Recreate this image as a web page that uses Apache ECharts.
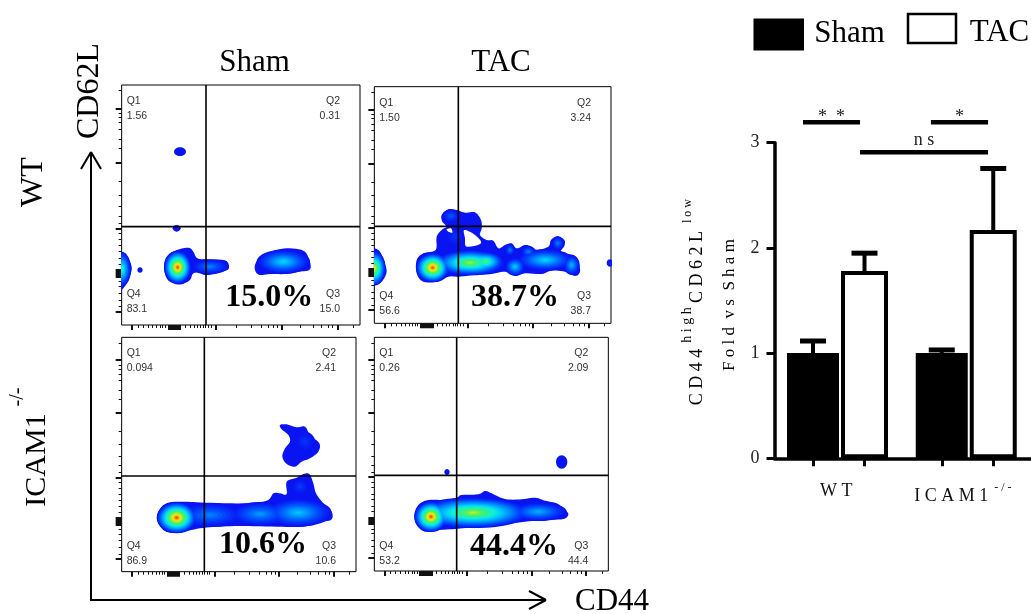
<!DOCTYPE html>
<html><head><meta charset="utf-8">
<style>html,body{margin:0;padding:0;background:#fff}#c{width:1031px;height:614px}</style>
<script src="https://cdn.jsdelivr.net/npm/echarts@6/dist/echarts.min.js"></script>
</head><body><div id="c"></div>
<script>
// ---------- bar chart data ----------
const GROUPS = ['WT', 'ICAM1-/-'];
const SHAM_X = [1, 3.5];
const TAC_X = [2, 4.5];
const SHAM_VALUES = [1, 1];
const TAC_VALUES = [1.78, 2.17];
const SHAM_ERR_TOP = [1.115, 1.03];
const TAC_ERR_TOP = [1.95, 2.755];
const SIG_LINES = [[0.806, 1.913, 3.194, '*  *', 3.245], [3.29, 4.4, 3.194, '*', 3.245], [1.913, 4.4, 2.909, 'n s', 3.02]];

// ---------- flow plots (channel units) ----------
const PANEL_NAMES = ['Sham WT', 'TAC WT', 'Sham ICAM1', 'TAC ICAM1'];
const PCT_LABELS = ['15.0%', '38.7%', '10.6%', '44.4%'];
const Q_VALUES = [['1.56', '0.31', '15.0', '83.1'], ['1.50', '3.24', '38.7', '56.6'], ['0.094', '2.41', '10.6', '86.9'], ['0.26', '2.09', '44.4', '53.2']];
const X_RANGE = [[35, 750], [28, 738], [35, 738], [28, 730]];
const Y_RANGE = [[15, 735], [20, 730], [22, 725], [22, 723]];
const GATE_X = [288, 280, 283, 275];
const GATE_Y = [440, 439, 438, 436];
const PCT_POS = [[478, 652], [450, 652], [459, 645], [447, 650]];
const TICK_X_MAJOR = [66, 318, 515, 682, 175, 180, 185, 190, 195, 200, 205, 210];
const TICK_X_MINOR = [85, 100, 115, 128, 140, 150, 158, 165, 225, 240, 252, 262, 272, 280, 287, 295, 303, 380, 425, 455, 475, 490, 503, 570, 610, 635, 655, 668, 730];
const TICK_Y_MAJOR = [85, 248, 445, 570, 575, 580, 585, 590, 695];
const TICK_Y_MINOR = [32, 100, 112, 128, 148, 178, 205, 305, 345, 380, 408, 430, 460, 478, 497, 515, 535, 552, 605, 620, 640, 660, 680];

const OUTLINES = [
  [
    [[30,515],[35,515],[50,525],[62,550],[65,570],[55,600],[42,622],[30,622]],
    [[162,560],[170,530],[195,512],[235,503],[250,515],[262,535],[290,538],[340,540],[355,550],[355,568],[335,575],[310,583],[285,585],[262,578],[248,582],[240,600],[215,613],[190,610],[170,595]],
    [[435,555],[450,530],[480,515],[530,505],[580,512],[598,540],[600,568],[570,575],[530,582],[480,582],[450,585],[437,575]]
  ],
  [
    [[20,505],[30,505],[45,515],[55,540],[65,575],[50,605],[30,615],[20,615]],
    [[155,540],[175,520],[212,510],[215,470],[232,448],[245,440],[232,425],[230,405],[250,388],[275,390],[300,398],[330,397],[348,420],[350,445],[345,465],[365,480],[385,482],[400,505],[420,495],[440,490],[455,505],[480,495],[500,500],[515,510],[550,500],[558,480],[578,468],[598,480],[598,498],[585,520],[625,525],[640,545],[645,575],[630,588],[600,575],[560,572],[530,582],[480,580],[450,588],[420,575],[380,582],[330,585],[280,590],[250,590],[220,605],[175,605],[155,580]]
  ],
  [
    [[510,285],[530,283],[560,292],[585,290],[600,315],[628,340],[625,365],[600,385],[575,395],[555,410],[530,402],[517,380],[525,355],[540,335],[535,315],[515,298]],
    [[142,560],[155,530],[180,517],[225,515],[285,518],[400,520],[470,512],[490,490],[510,490],[530,492],[530,455],[560,443],[580,432],[598,432],[610,460],[618,490],[640,520],[665,545],[665,568],[640,575],[580,590],[500,590],[400,588],[330,590],[270,595],[220,605],[180,608],[155,595]]
  ],
  [
    [[148,555],[160,525],[190,510],[240,510],[275,503],[290,495],[340,493],[360,483],[380,490],[420,507],[470,508],[510,503],[540,512],[575,520],[595,535],[610,552],[595,567],[540,570],[480,575],[400,585],[320,592],[270,597],[220,600],[180,605],[155,585]]
  ]
];
const HOLES = [
  [],
  [[[298,450],[330,465],[348,490],[305,500],[300,475]], [[245,448],[258,445],[262,458],[250,455]]],
  [],
  []
];
// cx, cy, rx, ry, top density level (0 blue .. 10 red)
const PEAKS = [
  [[35,568,28,52,5],[90,570,8,8,0],[203,562,41,50,10],[300,560,55,22,2],[520,545,80,36,3.6],[210,215,18,13,0],[200,445,12,10,0]],
  [[28,565,34,52,8],[203,563,50,44,10],[258,408,26,20,1.4],[270,470,30,28,0.6],[315,548,105,38,7],[360,545,55,30,6],[450,560,30,27,3.4],[540,540,85,32,3.6],[490,515,22,17,2],[435,510,15,17,2],[578,490,18,20,2],[620,555,24,30,3],[735,549,10,11,0.3]],
  [[585,335,30,30,0.6],[200,563,60,47,10],[300,555,100,36,2],[450,552,90,36,2.4],[565,548,100,42,3.2],[570,470,25,25,0.8]],
  [[198,560,50,46,10],[325,548,170,46,7.2],[520,545,85,28,2.8],[590,396,17,20,0],[246,426,8,9,0]]
];

const RAMP = ['#0a14f2','#0050ff','#0090ff','#00c8ff','#10f0d8','#30f090','#60f050','#c8f020','#ffd800','#ff7000','#ff1a00'];
function hex(c){return [1,3,5].map(i=>parseInt(c.substr(i,2),16));}
function rampColor(l){
  const i=Math.min(Math.floor(l),RAMP.length-2),f=l-i,a=hex(RAMP[i]),b=hex(RAMP[i+1]);
  return 'rgb('+a.map((v,k)=>Math.round(v+(b[k]-v)*f)).join(',')+')';
}
// closed Catmull-Rom through the outline vertices, only to round the drawn contour
function rounded(pts){
  const out=[],n=pts.length;
  for(let i=0;i<n;i++){
    const p0=pts[(i+n-1)%n],p1=pts[i],p2=pts[(i+1)%n],p3=pts[(i+2)%n];
    for(let s=0;s<6;s++){
      const t=s/6,t2=t*t,t3=t2*t;
      out.push([0,1].map(k=>0.5*(2*p1[k]+(p2[k]-p0[k])*t+(2*p0[k]-5*p1[k]+4*p2[k]-p3[k])*t2+(3*p1[k]-p0[k]-3*p2[k]+p3[k])*t3)));
    }
  }
  return out;
}

const CROPS = [[110,80],[365,80],[110,330],[365,330]];
const TEXT = '"Liberation Serif","Times New Roman",serif';
const SANS = '10.5px "Liberation Sans",Arial,sans-serif';
const grids=[],xAxes=[],yAxes=[],series=[];

function scaleTicks(t,r,o,s){return t.map(v=>r[0]+(v-o)*(r[1]-r[0])/s);}

PANEL_NAMES.forEach((name,p)=>{
  const xr=X_RANGE[p],yr=Y_RANGE[p],c=CROPS[p];
  grids.push({left:c[0]+xr[0]/3,top:c[1]+yr[0]/3,width:(xr[1]-xr[0])/3,height:(yr[1]-yr[0])/3,show:true,borderColor:'#000',borderWidth:1,backgroundColor:'#fff'});
  const xi=xAxes.length,yi=yAxes.length;
  const mkX=(vals,len,w)=>({type:'value',gridIndex:p,min:xr[0],max:xr[1],position:'bottom',axisLine:{show:false},splitLine:{show:false},axisLabel:{show:false},
    axisTick:{show:true,length:len,customValues:scaleTicks(vals,xr,35,715),lineStyle:{color:'#111',width:w}}});
  const mkY=(vals,len,w)=>({type:'value',gridIndex:p,min:yr[0],max:yr[1],inverse:true,position:'left',axisLine:{show:false},splitLine:{show:false},axisLabel:{show:false},
    axisTick:{show:true,length:len,customValues:scaleTicks(vals,yr,15,720),lineStyle:{color:'#111',width:w}}});
  xAxes.push(mkX(TICK_X_MAJOR,5,2),mkX(TICK_X_MINOR,3,1));
  yAxes.push(mkY(TICK_Y_MAJOR,6,2),mkY(TICK_Y_MINOR,3,1));
  const items=[];
  OUTLINES[p].forEach(o=>items.push({k:'poly',pts:rounded(o),fill:RAMP[0]}));
  // contour levels painted low to high, so overlapping peaks keep the higher density
  const ells=[];
  PEAKS[p].forEach(pk=>{
    const N=pk[4]<=0.01?1:Math.max(5,Math.round(pk[4]*4));
    for(let i=0;i<N;i++){
      const f=i/N,lv=pk[4]*Math.pow(f,1.2);
      ells.push({k:'ell',lv:lv,cx:pk[0],cy:pk[1],rx:pk[2]*(1-f),ry:pk[3]*(1-f),fill:rampColor(lv)});
    }
  });
  ells.sort((a,b)=>a.lv-b.lv).forEach(e=>items.push(e));
  HOLES[p].forEach(o=>items.push({k:'poly',pts:rounded(o),fill:'#fff'}));
  items.push({k:'line',a:[GATE_X[p],yr[0]],b:[GATE_X[p],yr[1]]});
  items.push({k:'line',a:[xr[0],GATE_Y[p]],b:[xr[1],GATE_Y[p]]});
  const qs=[['Q1',xr[0]+15,yr[0]+48,'left'],['Q2',xr[1]-60,yr[0]+48,'right'],['Q3',xr[1]-60,yr[0]+627,'right'],['Q4',xr[0]+15,yr[0]+627,'left']];
  qs.forEach((q,i)=>{
    items.push({k:'txt',t:q[0],x:q[1],y:q[2],align:q[3],font:SANS,fill:'#333'});
    items.push({k:'txt',t:Q_VALUES[p][i],x:q[1],y:q[2]+45,align:q[3],font:SANS,fill:'#333'});
  });
  items.push({k:'txt',t:PCT_LABELS[p],x:PCT_POS[p][0],y:PCT_POS[p][1],align:'center',font:'bold 32px '+TEXT,fill:'#000'});
  series.push({type:'custom',name:name,xAxisIndex:xi,yAxisIndex:yi,clip:true,silent:true,z:3,
    data:items.map((_,i)=>[i]),
    renderItem:(params,api)=>{
      const it=items[params.dataIndex];
      if(it.k==='poly'){
        return {type:'polygon',shape:{points:it.pts.map(q=>api.coord(q))},style:{fill:it.fill}};
      }
      if(it.k==='ell'){
        const q=api.coord([it.cx,it.cy]);
        return {type:'ellipse',shape:{cx:q[0],cy:q[1],rx:it.rx/3,ry:it.ry/3},style:{fill:it.fill}};
      }
      if(it.k==='line'){
        const a=api.coord(it.a),b=api.coord(it.b);
        return {type:'line',shape:{x1:a[0],y1:a[1],x2:b[0],y2:b[1]},style:{stroke:'#000',lineWidth:1.6}};
      }
      const q=api.coord([it.x,it.y]);
      return {type:'text',x:q[0],y:q[1],style:{text:it.t,font:it.font,fill:it.fill,align:it.align,verticalAlign:'middle'}};
    }});
});

// ---------- bar chart ----------
const bg=grids.length;
grids.push({left:774.5,top:142.7,width:256.5,height:315.6,show:false});
const XMIN=1-(813-774.5)/51.5,XMAX=1+218/51.5;
const bx=xAxes.length,by=yAxes.length;
xAxes.push({type:'value',gridIndex:bg,min:XMIN,max:XMAX,position:'bottom',splitLine:{show:false},
  axisLine:{show:true,onZero:false,lineStyle:{color:'#000',width:3.5}},
  axisTick:{show:true,length:8,customValues:SHAM_X.concat(TAC_X),lineStyle:{color:'#000',width:3}},
  axisLabel:{show:true,margin:24,customValues:[1.45,3.91],fontFamily:TEXT,color:'#111',
    formatter:v=>v<2?'{a|W T}':'{a|I C A M 1}{s|- / -}',
    rich:{a:{fontFamily:TEXT,fontSize:18,color:'#111'},s:{fontFamily:TEXT,fontSize:12,color:'#111',verticalAlign:'top',padding:[0,0,16,6]}}}});
xAxes.push({type:'value',gridIndex:bg,min:XMIN,max:XMAX,show:false,splitLine:{show:false}});
yAxes.push({type:'value',gridIndex:bg,min:0,max:3,interval:1,position:'left',splitLine:{show:false},
  axisLine:{show:true,onZero:false,lineStyle:{color:'#000',width:3.5}},
  axisTick:{show:true,length:8,lineStyle:{color:'#000',width:3}},
  axisLabel:{fontFamily:TEXT,fontSize:18,color:'#222',margin:15,padding:[5,0,0,0]}});
series.push({type:'bar',name:'Sham',xAxisIndex:bx,yAxisIndex:by,barWidth:52,itemStyle:{color:'#000'},z:3,
  data:SHAM_X.map((x,i)=>[x,SHAM_VALUES[i]])});
series.push({type:'bar',name:'TAC',xAxisIndex:bx+1,yAxisIndex:by,barWidth:47,itemStyle:{color:'#fff',borderColor:'#000',borderWidth:4},z:4,
  data:TAC_X.map((x,i)=>[x,TAC_VALUES[i]])});
const errs=SHAM_X.map((x,i)=>[x,SHAM_VALUES[i],SHAM_ERR_TOP[i]]).concat(TAC_X.map((x,i)=>[x,TAC_VALUES[i],TAC_ERR_TOP[i]]));
series.push({type:'custom',name:'SEM',xAxisIndex:bx,yAxisIndex:by,z:5,silent:true,clip:false,data:errs,
  renderItem:(params,api)=>{
    const x=api.value(0),lo=api.coord([x,api.value(1)]),hi=api.coord([x,api.value(2)]);
    return {type:'group',children:[
      {type:'line',shape:{x1:lo[0],y1:lo[1],x2:hi[0],y2:hi[1]},style:{stroke:'#000',lineWidth:4}},
      {type:'line',shape:{x1:hi[0]-13,y1:hi[1],x2:hi[0]+13,y2:hi[1]},style:{stroke:'#000',lineWidth:5}}]};
  }});
series.push({type:'custom',name:'Significance',xAxisIndex:bx,yAxisIndex:by,z:5,silent:true,clip:false,
  data:SIG_LINES.map(s=>s.slice(0,3).concat(s[4])),
  renderItem:(params,api)=>{
    const i=params.dataIndex,a=api.coord([api.value(0),api.value(2)]),b=api.coord([api.value(1),api.value(2)]);
    const t=api.coord([(api.value(0)+api.value(1))/2,api.value(3)]);
    return {type:'group',children:[
      {type:'line',shape:{x1:a[0],y1:a[1],x2:b[0],y2:b[1]},style:{stroke:'#000',lineWidth:4.6}},
      {type:'text',x:t[0],y:t[1],style:{text:SIG_LINES[i][3],font:'18px '+TEXT,fill:'#222',align:'center',verticalAlign:'middle'}}]};
  }});

// ---------- annotations ----------
function T(text,x,y,size,rot){
  return {type:'text',x:x,y:y,rotation:rot?Math.PI/2:0,silent:true,
    style:{text:text,font:size+'px '+TEXT,fill:'#000',align:'center',verticalAlign:'middle'}};
}
const L=(a,b,c,d,w)=>({type:'line',silent:true,shape:{x1:a,y1:b,x2:c,y2:d},style:{stroke:'#000',lineWidth:w||2}});
const graphics=[
  T('Sham',254.5,63,31),T('TAC',501,63,31),
  T('CD62L',90,91,32,true),T('WT',34,182,32,true),
  T('ICAM1',37,460,30,true),T('-/-',18,397,20,true),
  T('CD44',612,601.5,31),
  L(91,152,91,600),L(81,169,91,152),L(101,169,91,152),
  L(90,600,546,600),L(529,591,546,600),L(529,609,546,600),
  {type:'rect',silent:true,shape:{x:753.5,y:18.5,width:50.5,height:32},style:{fill:'#000'}},
  T('Sham',849.5,34,31),
  {type:'rect',silent:true,shape:{x:908,y:14,width:48,height:29},style:{fill:'#fff',stroke:'#000',lineWidth:2.5}},
  T('TAC',999.5,32.5,31),
  T('C D 4 4',697,377,18,true),T('h i g h',687,325,14,true),T('C D 6 2 L',697,267,18,true),T('l o w',688,211,12,true),
  T('F o l d  v s  S h a m',730,305,17,true)
];

const chart=echarts.init(document.getElementById('c'),null,{renderer:'canvas'});
chart.setOption({animation:false,backgroundColor:'#fff',grid:grids,xAxis:xAxes,yAxis:yAxes,series:series,graphic:graphics,tooltip:{show:false}});
</script></body></html>
